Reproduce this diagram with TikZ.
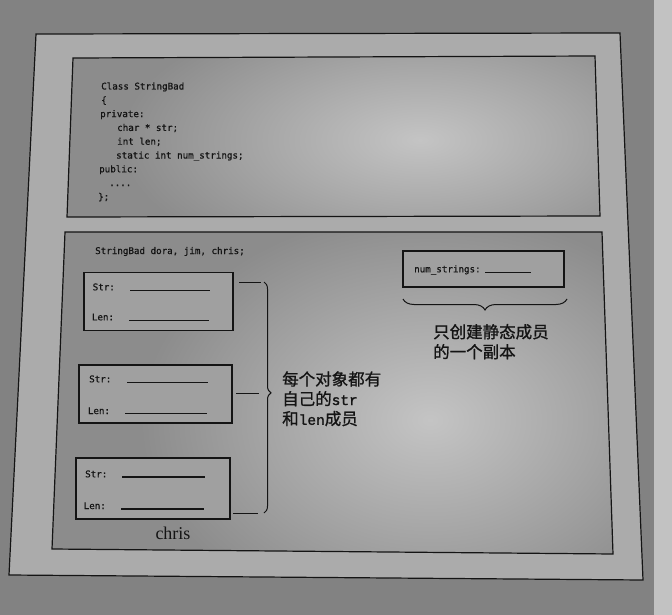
\documentclass[tikz,border=0pt]{standalone}
\usepackage{fontspec}
\usetikzlibrary{decorations.pathreplacing}
\newfontfamily\codefont{DejaVu Sans Mono}[FakeBold=0.7]
\newfontfamily\cjk{Noto Sans CJK SC}[FakeBold=1]
\newfontfamily\monob{Liberation Mono}[FakeBold=1.5]
\newfontfamily\serifch{Liberation Serif}
\definecolor{pagebg}{HTML}{828282}
\definecolor{pagelight}{HTML}{C2C2C2}
\definecolor{stripfill}{HTML}{ABABAB}
\definecolor{panel}{HTML}{8C8C8C}
\definecolor{panellight}{HTML}{C4C4C4}
\definecolor{boxfill}{HTML}{A0A0A0}
\definecolor{ink}{HTML}{141414}
\begin{document}
\begin{tikzpicture}[x=1pt,y=-1pt,
  frame/.style={draw=ink, line width=1.2pt, line join=miter},
  code/.style={anchor=base west, inner sep=0pt, font=\codefont\fontsize{9.2}{11}\selectfont, text=ink},
  objbox/.style={draw=ink, line width=1.3pt, fill=boxfill, inner sep=0pt},
  field/.style={draw=ink, line width=1.2pt},
  cn/.style={anchor=base west, inner sep=0pt, font=\cjk\fontsize{16.5}{20}\selectfont, text=ink},
  bracebr/.style={draw=ink, line width=1pt, decorate},
]
\useasboundingbox (0,0) rectangle (672,615);
\fill[pagebg] (0,0) rectangle (672,615);
\fill[pagelight] (654,0) rectangle (672,615);
% outer frame
\path[frame, fill=stripfill] (36,34) -- (620,33) -- (643,580) -- (9,575) -- cycle;
% top panel
\fill[panel] (73,58) -- (595,56) -- (600,216) -- (67,217) -- cycle;
\begin{scope}
  \clip (73,58) -- (595,56) -- (600,216) -- (67,217) -- cycle;
  \shade[inner color=panellight, outer color=panel] (420,140) ellipse (300 and 140);
\end{scope}
\draw[frame] (73,58) -- (595,56) -- (600,216) -- (67,217) -- cycle;
% bottom panel
\fill[panel] (65,232) -- (602,232) -- (613,554) -- (52,549) -- cycle;
\begin{scope}
  \clip (65,232) -- (602,232) -- (613,554) -- (52,549) -- cycle;
  \shade[inner color=panellight, outer color=panel] (430,420) ellipse (290 and 210);
\end{scope}
\draw[frame] (65,232) -- (602,232) -- (613,554) -- (52,549) -- cycle;

% code listing
\node[code] (c1) at (101,89.5) {Class StringBad};
\node[code] (c2) at (101,103.3) {\{};
\node[code] (c3) at (100,117.1) {private:};
\node[code] (c4) at (117,130.9) {char * str;};
\node[code] (c5) at (117,144.7) {int len;};
\node[code] (c6) at (116,158.5) {static int num\_strings;};
\node[code] (c7) at (99,172.3) {public:};
\node[code] (c8) at (109,186.1) {....};
\node[code] (c9) at (98,199.9) {\};};

\node[code] (decl) at (95,254) {StringBad dora, jim, chris;};

% object boxes
\node[objbox, minimum width=149pt, minimum height=58pt] (o1) at (158.5,301.6) {};
\node[objbox, minimum width=153pt, minimum height=58pt] (o2) at (155.5,394) {};
\node[objbox, minimum width=154pt, minimum height=61pt] (o3) at (153,488.5) {};

\node[code] (s1) at (92.5,290.3) {Str:};
\draw[field] (130,290.5) -- (210,290.5);
\node[code] (l1) at (91.7,320.3) {Len:};
\draw[field] (129,320.7) -- (209,320.7);

\node[code] (s2) at (89,382.3) {Str:};
\draw[field] (127,382.3) -- (208,382.3);
\node[code] (l2) at (87.7,414) {Len:};
\draw[field] (125,413.7) -- (207,413.7);

\node[code] (s3) at (85,477.3) {Str:};
\draw[field] (122,477) -- (205,477);
\node[code] (l3) at (83.5,509) {Len:};
\draw[field] (121,509) -- (204,509);

\node[inner sep=0pt, font=\serifch\fontsize{18}{20}\selectfont, text=ink] (chris) at (173,533) {chris};

% connectors to brace
\coordinate (b1) at (261,282);
\coordinate (b2) at (259,393);
\coordinate (b3) at (258,513);
\draw[ink, line width=1pt] (239,282) -- (b1);
\draw[ink, line width=1pt] (236,393) -- (b2);
\draw[ink, line width=1pt] (233,513) -- (b3);
\coordinate (bt) at (264,282);
\coordinate (bb) at (264,513);
\draw[bracebr, decoration={brace, amplitude=7pt, aspect=0.48}] (bt) -- (bb);

\node[cn] (t2a) at (282,385.3) {每个对象都有};
\node[cn] (t2b) at (282,405) {自己的{\monob\fontsize{14.5}{16}\selectfont str}};
\node[cn] (t2c) at (282,424.8) {和{\monob\fontsize{14.5}{16}\selectfont len}成员};

% static member box
\node[objbox, minimum width=161pt, minimum height=36pt] (nb) at (483.5,269) {};
\node[code] (ns) at (414,272.3) {num\_strings:};
\draw[field] (485,272.5) -- (531,272.5);
\coordinate (nr) at (567,299);
\coordinate (nl) at (403,299);
\draw[bracebr, decoration={brace, amplitude=11pt, aspect=0.5}] (nr) -- (nl);

\node[cn] (t1a) at (433,338) {只创建静态成员};
\node[cn] (t1b) at (433,358) {的一个副本};
\end{tikzpicture}
\end{document}
